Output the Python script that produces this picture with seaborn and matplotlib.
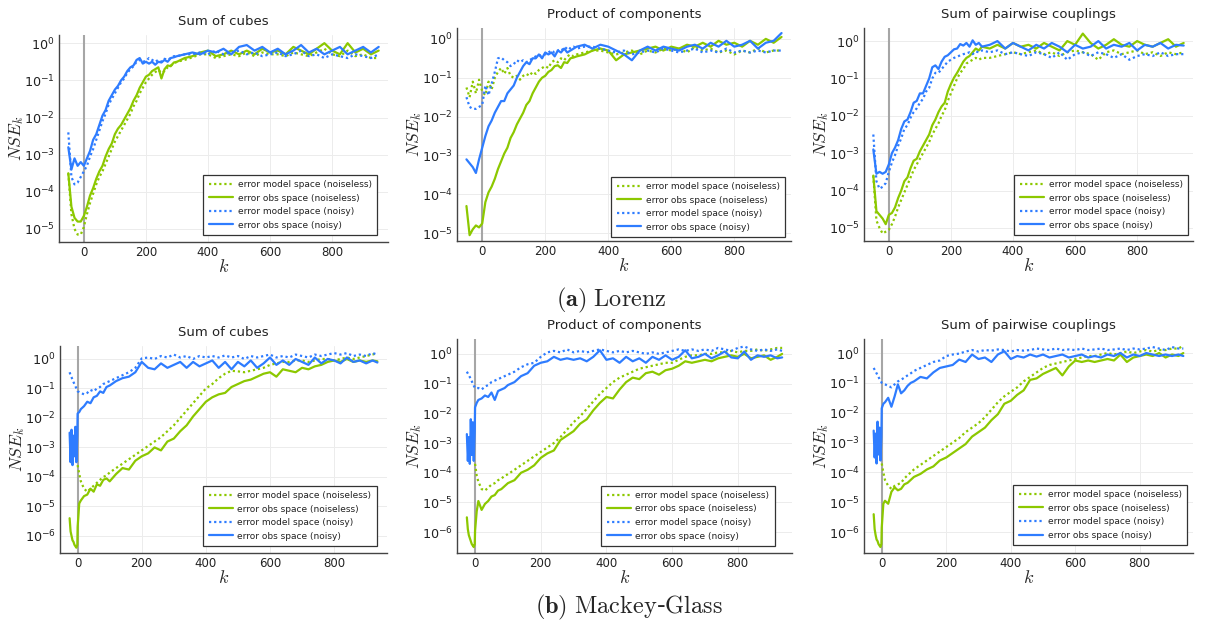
import numpy as np
import pandas as pd
import matplotlib
matplotlib.use("Agg")
import matplotlib.pyplot as plt
from matplotlib.ticker import NullLocator, LogFormatterSciNotation, FixedLocator
import seaborn as sns

# ---------------------------------------------------------------------------
# Data: log10 of the normalised squared error NSE_k, sampled along k.
# ---------------------------------------------------------------------------
nan = np.nan

# step index k for the Lorenz runs and the Mackey-Glass runs
k_lorenz = list(range(-50, 300, 10)) + list(range(300, 951, 25))
k_mackey = ([-25, -22, -19, -16, -13, -10, -7, -4, -1, 0, 5, 10]
            + list(range(20, 101, 10)) + list(range(120, 921, 20)) + [935])

LABELS = ["error model space (noiseless)", "error obs space (noiseless)",
          "error model space (noisy)", "error obs space (noisy)"]

# --- Lorenz: sum of cubes
lz_cubes_model_clean = [
    -3.5, -4.6, -5.0, -5.15, -5.15, -4.95, -4.6, -4.3, -4.05, -3.8, -3.6, -3.45,
    -3.25, -3.05, -2.85, -2.65, -2.5, -2.35, -2.2, -2.05, -1.9, -1.7, -1.55, -1.35,
    -1.2, -1.05, -0.95, -0.85, -0.78, -0.72, -0.8, -0.75, -0.65, -0.6, -0.55,
    -0.5, -0.45, -0.38, -0.3, -0.3, -0.4, -0.35, -0.3, -0.35, -0.25, -0.35, -0.25,
    -0.3, -0.3, -0.35, -0.25, -0.3, -0.35, -0.25, -0.15, -0.3, -0.35, -0.2, -0.35,
    -0.3, -0.4, -0.4]
lz_cubes_obs_clean = [
    -3.5, -4.4, -4.7, -4.8, -4.8, -4.65, -4.4, -4.1, -3.9, -3.65, -3.45, -3.3,
    -3.05, -2.85, -2.7, -2.45, -2.3, -2.2, -2.05, -1.9, -1.75, -1.55, -1.4, -1.2,
    -1.05, -0.9, -0.85, -0.75, -0.7, -0.65, -0.95, -0.7, -0.6, -0.62, -0.52,
    -0.5, -0.4, -0.35, -0.25, -0.2, -0.35, -0.3, -0.2, -0.3, -0.2, -0.3, -0.15,
    -0.25, -0.2, -0.3, -0.1, -0.2, -0.3, -0.15, 0.0, -0.2, -0.3, 0.0, -0.25,
    -0.15, -0.3, -0.2]
lz_cubes_model_noisy = [
    -2.4, -3.6, -3.8, -3.75, -3.6, -3.45, -3.3, -3.05, -2.85, -2.6, -2.35, -2.1,
    -1.9, -1.65, -1.5, -1.35, -1.2, -1.05, -0.95, -0.8, -0.7, -0.62, -0.5, -0.45,
    -0.5, -0.48, -0.4, -0.45, -0.5, -0.45, -0.5, -0.42, -0.45, -0.4, -0.35,
    -0.35, -0.3, -0.3, -0.25, -0.3, -0.2, -0.3, -0.25, -0.2, -0.3, -0.25, -0.35,
    -0.3, -0.25, -0.35, -0.3, -0.2, -0.35, -0.3, -0.4, -0.3, -0.35, -0.4, -0.3,
    -0.35, -0.4, -0.3]
lz_cubes_obs_noisy = [
    -2.8, -3.4, -3.1, -3.3, -3.2, -3.3, -3.1, -2.9, -2.6, -2.45, -2.2, -1.95,
    -1.8, -1.55, -1.4, -1.25, -1.15, -1.0, -0.9, -0.75, -0.65, -0.6, -0.45, -0.4,
    -0.55, -0.5, -0.55, -0.5, -0.58, -0.5, -0.52, -0.45, -0.5, -0.4, -0.38,
    -0.35, -0.3, -0.25, -0.3, -0.2, -0.25, -0.15, -0.3, -0.1, -0.05, -0.2, -0.1,
    -0.25, -0.15, -0.3, -0.2, -0.05, -0.25, -0.15, -0.3, -0.2, -0.1, -0.3, -0.2,
    -0.1, -0.25, -0.1]

# --- Lorenz: product of components
lz_prod_model_clean = [
    -1.25, -1.5, -1.1, -1.4, -1.05, -1.35, -1.45, -1.1, -1.3, -1.0, -0.85, -0.75,
    -0.9, -0.75, -0.95, -1.0, -0.95, -1.05, -0.95, -0.9, -0.95, -0.85, -0.9, -0.8,
    -0.75, -0.7, -0.75, -0.6, -0.55, -0.6, -0.5, -0.55, -0.45, -0.4, -0.45,
    -0.4, -0.35, -0.3, -0.3, -0.35, -0.4, -0.35, -0.3, -0.4, -0.3, -0.35, -0.25,
    -0.3, -0.25, -0.35, -0.2, -0.3, -0.25, -0.35, -0.3, -0.4, -0.3, -0.35, -0.25,
    -0.35, -0.3, -0.3]
lz_prod_obs_clean = [
    -4.3, -5.05, -4.9, -4.8, -4.85, -4.75, -4.2, -3.95, -3.8, -3.6, -3.35, -3.15,
    -2.95, -2.8, -2.55, -2.4, -2.2, -2.05, -1.9, -1.7, -1.6, -1.4, -1.25, -1.1,
    -1.0, -0.95, -0.85, -0.8, -0.7, -0.68, -0.75, -0.6, -0.62, -0.5, -0.48,
    -0.45, -0.4, -0.3, -0.25, -0.3, -0.55, -0.4, -0.35, -0.3, -0.25, -0.2, -0.3,
    -0.2, -0.25, -0.15, -0.2, -0.1, -0.2, -0.05, -0.15, -0.1, -0.2, -0.05, -0.15,
    0.0, -0.1, 0.05]
lz_prod_model_noisy = [
    -1.5, -1.75, -1.8, -1.8, -1.75, -1.7, -1.2, -1.45, -1.15, -0.85, -0.5, -0.48,
    -0.55, -0.6, -0.7, -0.65, -0.55, -0.6, -0.55, -0.6, -0.55, -0.5, -0.45, -0.45,
    -0.4, -0.4, -0.35, -0.3, -0.35, -0.3, -0.25, -0.3, -0.2, -0.25, -0.2,
    -0.25, -0.2, -0.2, -0.25, -0.3, -0.35, -0.3, -0.4, -0.35, -0.3, -0.35, -0.25,
    -0.3, -0.35, -0.3, -0.25, -0.35, -0.3, -0.35, -0.25, -0.35, -0.3, -0.35, -0.3,
    -0.35, -0.3, -0.3]
lz_prod_obs_noisy = [
    -3.1, -3.2, -3.3, -3.45, -3.1, -2.8, -2.5, -2.25, -2.1, -1.9, -1.75, -1.6,
    -1.6, -1.4, -1.3, -1.2, -1.0, -0.85, -0.7, -0.6, -0.65, -0.5, -0.5, -0.4,
    -0.5, -0.35, -0.4, -0.35, -0.45, -0.3, -0.35, -0.25, -0.35, -0.3, -0.25,
    -0.2, -0.15, -0.25, -0.15, -0.2, -0.3, -0.4, -0.55, -0.3, -0.2, -0.3, -0.2,
    -0.25, -0.3, -0.2, -0.15, -0.25, -0.1, -0.2, -0.05, -0.2, -0.15, -0.05, -0.25,
    -0.1, -0.05, 0.15]

# --- Lorenz: sum of pairwise couplings
lz_pair_model_clean = [
    -3.6, -4.8, -5.0, -5.15, -5.1, -5.05, -4.9, -4.7, -4.45, -4.25, -4.05, -3.85,
    -3.65, -3.45, -3.3, -3.15, -3.0, -2.85, -2.7, -2.5, -2.35, -2.2, -2.0, -1.85,
    -1.6, -1.4, -1.2, -1.0, -0.85, -0.75, -0.6, -0.55, -0.5, -0.45, -0.5,
    -0.45, -0.45, -0.4, -0.35, -0.3, -0.35, -0.3, -0.25, -0.35, -0.3, -0.4, -0.3,
    -0.25, -0.3, -0.35, -0.5, -0.3, -0.25, -0.35, -0.3, -0.25, -0.35, -0.3, -0.4,
    -0.3, -0.35, -0.3]
lz_pair_obs_clean = [
    -3.6, -4.55, -4.65, -4.75, -4.9, -4.65, -4.6, -4.45, -4.2, -4.0, -3.75, -3.65,
    -3.4, -3.2, -3.15, -2.95, -2.8, -2.65, -2.5, -2.25, -2.1, -1.9, -1.75, -1.65,
    -1.35, -1.15, -0.98, -0.85, -0.7, -0.55, -0.45, -0.4, -0.3, -0.2, -0.25,
    -0.15, -0.2, -0.1, -0.2, -0.05, -0.15, -0.1, -0.2, -0.05, -0.15, -0.25, 0.0,
    -0.1, 0.2, -0.05, -0.2, -0.1, 0.05, -0.1, -0.15, 0.0, -0.1, -0.15, -0.05,
    0.05, -0.15, -0.05]
lz_pair_model_noisy = [
    -2.5, -3.75, -3.95, -3.9, -3.8, -3.5, -3.25, -3.05, -2.8, -2.6, -2.35, -2.25,
    -2.05, -1.9, -1.8, -1.65, -1.55, -1.35, -1.25, -1.0, -0.85, -0.85, -0.75, -0.65,
    -0.55, -0.5, -0.45, -0.42, -0.38, -0.35, -0.33, -0.3, -0.35, -0.28, -0.3,
    -0.25, -0.3, -0.25, -0.35, -0.3, -0.35, -0.4, -0.3, -0.35, -0.45, -0.3, -0.5,
    -0.35, -0.3, -0.4, -0.3, -0.35, -0.45, -0.35, -0.5, -0.4, -0.35, -0.4, -0.3,
    -0.4, -0.35, -0.35]
lz_pair_obs_noisy = [
    -2.9, -3.55, -3.5, -3.55, -3.5, -3.3, -3.0, -2.85, -2.65, -2.35, -2.15, -2.1,
    -1.9, -1.65, -1.6, -1.4, -1.4, -1.2, -1.0, -0.7, -0.65, -0.75, -0.55, -0.42,
    -0.38, -0.3, -0.22, -0.2, -0.08, -0.12, -0.05, -0.15, 0.02, -0.1, -0.05,
    -0.15, -0.1, 0.0, -0.2, -0.05, -0.15, -0.25, -0.1, -0.2, -0.05, -0.15, -0.3,
    -0.1, -0.2, -0.15, 0.0, -0.2, -0.1, -0.15, -0.05, -0.25, -0.1, -0.15, -0.05,
    -0.2, -0.1, -0.12]

# --- Mackey-Glass: sum of cubes
mg_cubes_model_clean = [
    nan, nan, nan, nan, nan, nan, nan, nan, nan, -3.6, -3.9, -4.15,
    -4.4, -4.5, -4.4, -4.3, -4.2, -4.1, -4.0, -3.95, -3.85,
    -3.7, -3.55, -3.4, -3.25, -3.1, -2.95, -2.8, -2.65, -2.45, -2.25,
    -2.0, -1.75, -1.5, -1.25, -1.0, -0.85, -0.65, -0.5, -0.4, -0.42,
    -0.45, -0.4, -0.35, -0.3, -0.2, -0.15, -0.1, -0.1, -0.05, -0.05,
    -0.1, -0.05, 0.0, 0.0, -0.05, 0.0, 0.05, 0.0, 0.05, 0.1,
    0.15, 0.2]
mg_cubes_obs_clean = [
    -5.4, -5.85, -6.0, -6.15, -6.2, -6.3, -6.35, -6.4, -6.3, -5.7, -4.9, -4.8,
    -4.65, -4.6, -4.4, -4.5, -4.25, -4.3, -4.1, -4.05, -4.15,
    -3.9, -3.7, -3.75, -3.45, -3.3, -3.2, -3.0, -3.1, -2.8, -2.7,
    -2.45, -2.25, -1.95, -1.7, -1.45, -1.3, -1.2, -1.15, -0.95, -0.85,
    -0.75, -0.7, -0.6, -0.5, -0.45, -0.6, -0.35, -0.4, -0.45, -0.3,
    -0.35, -0.25, -0.2, -0.1, -0.05, -0.1, 0.0, -0.1, -0.05, -0.1,
    -0.05, -0.08]
mg_cubes_model_noisy = [
    -0.45, -0.55, -0.62, -0.7, -0.78, -0.85, -0.92, -1.0, -1.08, -1.1, -1.12, -1.15,
    -1.2, -1.15, -1.05, -1.1, -1.0, -0.95, -0.85, -0.8, -0.75,
    -0.65, -0.55, -0.45, -0.3, 0.02, 0.05, 0.0, 0.1, 0.05, 0.15,
    0.05, 0.1, 0.0, 0.1, 0.05, 0.1, 0.05, 0.12, 0.05, 0.1,
    0.0, 0.1, 0.05, 0.1, 0.15, 0.05, 0.1, 0.05, 0.15, 0.1,
    0.05, 0.15, 0.1, 0.15, 0.2, 0.15, 0.2, 0.1, 0.15, 0.1,
    0.2, 0.15]
mg_cubes_obs_noisy = [
    -2.5, -3.5, -2.4, -3.6, -2.6, -3.3, -2.3, -3.5, -2.6, -1.85, -1.8, -1.7,
    -1.6, -1.45, -1.5, -1.3, -1.25, -1.1, -1.15, -0.95, -0.9,
    -0.75, -0.65, -0.6, -0.45, -0.1, -0.3, -0.35, -0.15, -0.3, -0.2,
    -0.1, -0.3, -0.1, -0.25, -0.15, -0.05, -0.3, -0.1, -0.35, -0.1,
    -0.25, -0.05, -0.3, -0.15, 0.05, -0.2, -0.05, -0.2, 0.0, -0.1,
    -0.2, 0.05, -0.15, 0.0, -0.05, -0.15, 0.05, -0.1, -0.05, -0.15,
    -0.05, -0.12]

# --- Mackey-Glass: product of components
mg_prod_model_clean = [
    nan, nan, nan, nan, nan, nan, nan, nan, nan, -3.7, -4.1, -4.3,
    -4.55, -4.6, -4.5, -4.4, -4.35, -4.25, -4.2, -4.1, -4.05,
    -3.9, -3.75, -3.6, -3.45, -3.3, -3.15, -3.0, -2.8, -2.55, -2.3,
    -2.1, -1.85, -1.6, -1.35, -1.15, -0.95, -0.8, -0.7, -0.6, -0.5,
    -0.45, -0.4, -0.35, -0.3, -0.3, -0.2, -0.1, -0.05, -0.05, 0.0,
    0.0, 0.05, 0.05, 0.1, 0.05, 0.1, 0.1, 0.15, 0.1, 0.15,
    0.2, 0.2]
mg_prod_obs_clean = [
    -5.5, -5.9, -6.1, -6.2, -6.3, -6.4, -6.45, -6.5, -6.4, -5.95, -5.3, -4.95,
    -5.25, -5.05, -4.95, -4.8, -4.75, -4.6, -4.55, -4.45, -4.35,
    -4.25, -4.0, -3.9, -3.75, -3.5, -3.35, -3.25, -2.9, -2.75, -2.6,
    -2.35, -2.2, -1.9, -1.65, -1.45, -1.5, -1.2, -0.95, -0.8, -0.85,
    -0.65, -0.6, -0.7, -0.55, -0.5, -0.4, -0.25, -0.3, -0.25, -0.2,
    -0.25, -0.15, -0.1, -0.05, -0.1, 0.0, -0.15, -0.1, -0.05, -0.2,
    -0.1, 0.0]
mg_prod_model_noisy = [
    -0.6, -0.66, -0.72, -0.78, -0.85, -0.92, -1.0, -1.07, -1.13, -1.15, -1.15, -1.15,
    -1.2, -1.1, -1.05, -0.95, -0.9, -0.85, -0.8, -0.75, -0.7,
    -0.6, -0.45, -0.35, -0.3, -0.1, 0.05, 0.1, 0.05, 0.15, 0.05,
    0.1, 0.05, 0.1, 0.15, 0.1, 0.05, 0.1, 0.05, 0.1, 0.05,
    0.0, 0.05, 0.0, 0.05, 0.1, 0.15, 0.1, 0.15, 0.1, 0.15,
    0.1, 0.2, 0.15, 0.1, 0.2, 0.25, 0.15, 0.1, 0.15, 0.1,
    0.15, 0.1]
mg_prod_obs_noisy = [
    -2.7, -3.6, -2.8, -3.7, -2.2, -3.4, -2.3, -3.6, -2.6, -1.8, -1.65, -1.55,
    -1.5, -1.4, -1.45, -1.3, -1.55, -1.25, -1.2, -1.15, -1.05,
    -0.95, -0.75, -0.65, -0.4, -0.3, -0.25, -0.1, -0.2, -0.15, -0.2,
    -0.15, -0.25, -0.1, 0.12, -0.2, -0.15, -0.3, -0.1, -0.25, -0.15,
    -0.3, -0.1, -0.2, -0.05, -0.2, -0.1, 0.12, -0.15, -0.1, 0.0,
    -0.15, -0.05, 0.08, -0.12, -0.15, 0.08, -0.2, -0.05, -0.1, -0.05,
    -0.15, -0.12]

# --- Mackey-Glass: sum of pairwise couplings
mg_pair_model_clean = [
    nan, nan, nan, nan, nan, nan, nan, nan, nan, -3.7, -4.0, -4.25,
    -4.45, -4.55, -4.45, -4.4, -4.35, -4.2, -4.1, -4.0, -3.9,
    -3.75, -3.6, -3.45, -3.3, -3.15, -3.0, -2.85, -2.65, -2.5, -2.35,
    -2.15, -1.9, -1.65, -1.45, -1.3, -1.15, -0.95, -0.8, -0.65, -0.5,
    -0.4, -0.35, -0.3, -0.25, -0.2, -0.15, -0.1, -0.1, -0.05, 0.0,
    -0.05, 0.0, 0.05, 0.0, 0.05, 0.1, 0.05, 0.1, 0.1, 0.15,
    0.15, 0.25]
mg_pair_obs_clean = [
    -5.4, -5.9, -6.1, -6.25, -6.3, -6.4, -6.45, -6.5, -6.4, -5.85, -5.05, -4.95,
    -5.05, -4.65, -4.5, -4.6, -4.55, -4.4, -4.35, -4.25, -4.15,
    -4.05, -3.9, -3.8, -3.6, -3.5, -3.35, -3.2, -3.05, -2.8, -2.65,
    -2.5, -2.25, -2.05, -1.7, -1.6, -1.4, -1.25, -0.9, -0.85, -0.7,
    -0.6, -0.5, -0.75, -0.45, -0.25, -0.3, -0.25, -0.3, -0.25, -0.2,
    -0.25, -0.05, -0.3, -0.15, -0.1, -0.05, -0.1, 0.0, -0.15, -0.05,
    -0.1, 0.0]
mg_pair_model_noisy = [
    -0.5, -0.56, -0.62, -0.68, -0.74, -0.8, -0.87, -0.93, -0.98, -1.0, -1.03, -1.05,
    -1.1, -1.15, -1.05, -0.95, -0.9, -0.82, -0.75, -0.68, -0.6,
    -0.5, -0.4, -0.3, -0.25, -0.1, -0.05, -0.02, 0.05, 0.1, 0.05,
    0.1, 0.08, 0.12, 0.1, 0.05, 0.1, 0.08, 0.1, 0.15, 0.12,
    0.1, 0.15, 0.1, 0.12, 0.1, 0.15, 0.1, 0.12, 0.15, 0.1,
    0.12, 0.15, 0.1, 0.15, 0.12, 0.15, 0.2, 0.15, 0.1, 0.2,
    0.15, 0.15]
mg_pair_obs_noisy = [
    -2.6, -3.5, -2.7, -3.7, -2.3, -3.4, -2.5, -3.6, -2.8, -1.85, -1.7, -1.65,
    -1.5, -1.8, -1.45, -1.05, -1.35, -1.25, -1.1, -1.0, -0.95,
    -0.8, -0.85, -0.65, -0.5, -0.45, -0.4, -0.22, -0.3, -0.05, -0.2,
    -0.15, -0.3, -0.05, 0.06, -0.2, -0.1, -0.15, -0.05, -0.12, -0.05,
    -0.15, -0.1, -0.05, -0.15, -0.1, -0.05, -0.15, -0.1, -0.15, -0.05,
    -0.1, 0.0, -0.15, -0.05, -0.1, 0.0, -0.05, -0.1, -0.05, -0.1,
    -0.05, -0.1]

panel_titles = ["Sum of cubes", "Product of components", "Sum of pairwise couplings"]
captions = [r"$\mathbf{(a)}\ \mathrm{Lorenz}$", r"$\mathbf{(b)}\ \mathrm{Mackey}$-$\mathrm{Glass}$"]

panels = [
    (k_lorenz, [lz_cubes_model_clean, lz_cubes_obs_clean, lz_cubes_model_noisy, lz_cubes_obs_noisy]),
    (k_lorenz, [lz_prod_model_clean, lz_prod_obs_clean, lz_prod_model_noisy, lz_prod_obs_noisy]),
    (k_lorenz, [lz_pair_model_clean, lz_pair_obs_clean, lz_pair_model_noisy, lz_pair_obs_noisy]),
    (k_mackey, [mg_cubes_model_clean, mg_cubes_obs_clean, mg_cubes_model_noisy, mg_cubes_obs_noisy]),
    (k_mackey, [mg_prod_model_clean, mg_prod_obs_clean, mg_prod_model_noisy, mg_prod_obs_noisy]),
    (k_mackey, [mg_pair_model_clean, mg_pair_obs_clean, mg_pair_model_noisy, mg_pair_obs_noisy]),
]

# ---------------------------------------------------------------------------
# Styling
# ---------------------------------------------------------------------------
sns.set_style("white")
plt.rcParams["font.family"] = ["DejaVu Sans"]

GREEN = "#8cc800"
BLUE = "#2e7cff"
palette = {LABELS[0]: GREEN, LABELS[1]: GREEN, LABELS[2]: BLUE, LABELS[3]: BLUE}
dashes = {LABELS[0]: (1, 1.3), LABELS[1]: "", LABELS[2]: (1, 1.3), LABELS[3]: ""}

W, H = 1205, 627
fig = plt.figure(figsize=(W / 100, H / 100), dpi=100)


def px_box(left, top, right, bottom):
    return [left / W, 1 - bottom / H, (right - left) / W, (bottom - top) / H]


boxes = [
    px_box(59, 35, 388, 242), px_box(457, 28, 791, 241), px_box(864, 28, 1193, 241),
    px_box(60, 346, 387, 553), px_box(457, 339, 792, 553), px_box(864, 339, 1193, 553),
]
ylims = [(-5.35, 0.22), (-5.2, 0.28), (-5.35, 0.35),
         (-6.58, 0.44), (-6.7, 0.5), (-6.7, 0.47)]
xlims = [(-80, 980)] * 3 + [(-55, 965)] * 3
legend_anchor = [(0.967, 0.034), (0.982, 0.019), (0.985, 0.028),
                 (0.969, 0.034), (0.949, 0.033), (0.982, 0.037)]

for i, (box, (kk, series)) in enumerate(zip(boxes, panels)):
    ax = fig.add_axes(box)
    frames = []
    for lab, vals in zip(LABELS, series):
        assert len(vals) == len(kk), (i, lab, len(vals), len(kk))
        frames.append(pd.DataFrame({"k": kk, "NSE": 10.0 ** np.asarray(vals, float),
                                    "series": lab}))
    df = pd.concat(frames, ignore_index=True).dropna()

    ax.axvline(0, color="#a6a6a6", lw=1.5, zorder=1.5)
    sns.lineplot(data=df, x="k", y="NSE", hue="series", style="series",
                 hue_order=LABELS, style_order=LABELS, palette=palette,
                 dashes=dashes, linewidth=1.6, estimator=None, sort=False,
                 ax=ax, zorder=2)

    ax.set_yscale("log")
    lo, hi = ylims[i]
    ax.set_ylim(10 ** lo, 10 ** hi)
    ax.set_xlim(*xlims[i])
    decades = np.arange(int(np.ceil(lo)), 1)
    ax.yaxis.set_major_locator(FixedLocator(10.0 ** decades))
    ax.yaxis.set_major_formatter(LogFormatterSciNotation())
    ax.yaxis.set_minor_locator(NullLocator())
    ax.set_xticks([0, 200, 400, 600, 800])

    ax.grid(True, color="#ececec", lw=0.7)
    ax.set_axisbelow(True)
    for side in ("top", "right"):
        ax.spines[side].set_visible(False)
    for side in ("left", "bottom"):
        ax.spines[side].set_color("#444444")
        ax.spines[side].set_linewidth(1.0)
    ax.tick_params(axis="both", direction="in", length=3, width=0.8,
                   color="#444444", labelcolor="#222222", pad=3)
    ax.tick_params(axis="x", labelsize=8.5)
    ax.tick_params(axis="y", labelsize=9.2)

    ax.set_title(panel_titles[i % 3], fontsize=9.5, pad=7, color="#222222")
    ax.set_xlabel(r"$k$", fontsize=13, math_fontfamily="cm", labelpad=-1)
    ax.set_ylabel(r"$NSE_k$", fontsize=12.5, math_fontfamily="cm")
    ax.yaxis.set_label_coords(-0.1, 0.5)

    handles, labels = ax.get_legend_handles_labels()
    leg = ax.legend(handles, labels, loc="lower right",
                    bbox_to_anchor=legend_anchor[i], borderaxespad=0,
                    fontsize=6.5, handlelength=2.7, handletextpad=0.5,
                    labelspacing=0.5, borderpad=0.6, fancybox=False,
                    framealpha=1, edgecolor="#333333")
    leg.get_frame().set_linewidth(0.9)
    for t in leg.get_texts():
        t.set_color("#222222")

fig.text(611 / W, 1 - 300 / H, captions[0], ha="center", va="center",
         fontsize=17.5, math_fontfamily="cm")
fig.text(629 / W, 1 - 607 / H, captions[1], ha="center", va="center",
         fontsize=17.5, math_fontfamily="cm")

fig.savefig("out.png", dpi=100, facecolor="white")
